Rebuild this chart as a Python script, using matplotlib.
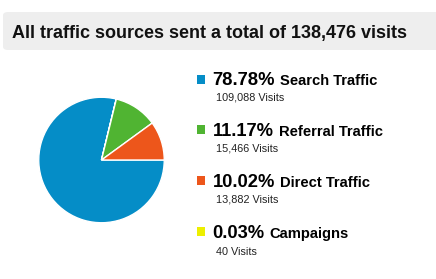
import matplotlib
matplotlib.use("Agg")
import matplotlib.pyplot as plt
from matplotlib.patches import FancyBboxPatch, Rectangle

W, H = 436, 279
title = "All traffic sources sent a total of 138,476 visits"
categories = ["Search Traffic", "Referral Traffic", "Direct Traffic", "Campaigns"]
percents = ["78.78%", "11.17%", "10.02%", "0.03%"]
visits = [109088, 15466, 13882, 40]
colors = ["#058DC7", "#50B432", "#ED561B", "#EDEF00"]

plt.rcParams['font.family'] = ['Liberation Sans', 'DejaVu Sans']

fig = plt.figure(figsize=(W / 100, H / 100), dpi=100)
fig.patch.set_facecolor("white")

def fx(x):
    return x / W

def fy(y):
    return 1 - y / H

# title box
box = FancyBboxPatch((fx(3), fy(50)), fx(440) - fx(3), fy(12) - fy(50),
                     boxstyle="round,pad=0,rounding_size=0.012",
                     transform=fig.transFigure, facecolor="#EEEEEE",
                     edgecolor="none")
fig.patches.append(box)
fig.text(fx(11.5), fy(37.7), title, fontsize=13.0, fontweight="bold",
         color="#111111", va="baseline", ha="left")

# pie: clockwise from east; order search, campaigns, referral, direct
cx, cy, r = 101.5, 160, 64
ax = fig.add_axes([fx(cx - r), fy(cy + r), (2 * r) / W, (2 * r) / H])
order = [0, 3, 1, 2]
ax.pie([visits[i] for i in order], colors=[colors[i] for i in order],
       startangle=0, counterclock=False, radius=1,
       wedgeprops=dict(edgecolor="white", linewidth=1.0))
ax.set_xlim(-1.02, 1.02)
ax.set_ylim(-1.02, 1.02)
ax.set_aspect("equal")
ax.axis("off")

# legend
pct_base = [85, 136, 186.7, 237.7]
vis_base = [100, 151.7, 202.7, 255]
fig.canvas.draw()
renderer = fig.canvas.get_renderer()
for i in range(len(categories)):
    sq = Rectangle((fx(197), fy(pct_base[i] - 1.5)), 8 / W, 9 / H,
                   transform=fig.transFigure, facecolor=colors[i],
                   edgecolor="none")
    fig.patches.append(sq)
    t = fig.text(fx(212.5), fy(pct_base[i]), percents[i], fontsize=13.2,
                 fontweight="bold", color="#000000", va="baseline", ha="left")
    bb = t.get_window_extent(renderer=renderer)
    fig.text(fx(bb.x1 + 5), fy(pct_base[i]), categories[i], fontsize=10.6,
             fontweight="bold", color="#000000", va="baseline", ha="left")
    fig.text(fx(216), fy(vis_base[i]), f"{visits[i]:,} Visits", fontsize=7.8,
             color="#222222", va="baseline", ha="left")

fig.savefig("out.png", dpi=100, facecolor="white")
